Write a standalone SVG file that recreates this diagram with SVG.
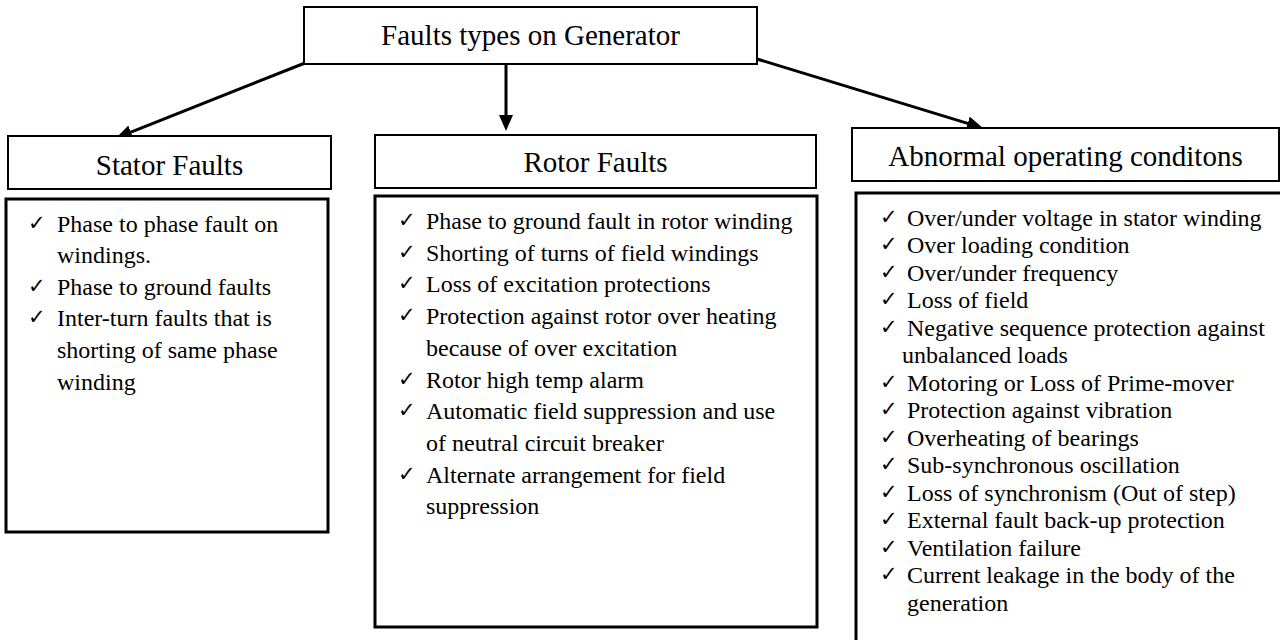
<svg xmlns="http://www.w3.org/2000/svg" width="1280" height="640" viewBox="0 0 1280 640">
<style>
.hdr{fill:#fff;stroke:#000;stroke-width:2}
.lst{fill:#fff;stroke:#000;stroke-width:3}
.t{font-family:"Liberation Serif","Times New Roman",serif;fill:#000}
.h{font-size:29px;text-anchor:middle}
.i{font-size:24px}
.ck{font-family:"DejaVu Sans",sans-serif;font-size:21px;font-weight:bold;fill:#000}
.conn{stroke:#000;stroke-width:3;fill:none}
</style>
<defs>
<marker id="ah" markerUnits="userSpaceOnUse" markerWidth="16" markerHeight="14" viewBox="0 0 16 14" refX="6" refY="7" orient="auto">
<path d="M0,0 L16,7 L0,14 z" fill="#000"/>
</marker>
</defs>
<rect width="1280" height="640" fill="#fff"/>
<g id="connectors">
<line class="conn" x1="305" y1="63" x2="125.3" y2="134.3" marker-end="url(#ah)"/>
<line class="conn" x1="506" y1="64" x2="506" y2="121" marker-end="url(#ah)"/>
<line class="conn" x1="757" y1="59" x2="973.4" y2="125.1" marker-end="url(#ah)"/>
</g>
<g id="root">
<rect class="hdr" x="304" y="7" width="453" height="57"/>
<text class="t h" x="530.5" y="45">Faults types on Generator</text>
</g>
<g id="stator">
<rect class="hdr" x="8" y="136" width="323" height="53"/>
<text class="t h" x="169.5" y="175">Stator Faults</text>
</g>
<g id="stator-list">
<rect class="lst" x="6" y="199" width="322" height="333"/>
<g class="ck"><text x="28" y="230">✓</text><text x="28" y="293">✓</text><text x="28" y="324">✓</text></g>
<text class="t i" x="57" y="232">Phase to phase fault on</text>
<text class="t i" x="57" y="263">windings.</text>
<text class="t i" x="57" y="295">Phase to ground faults</text>
<text class="t i" x="57" y="326">Inter-turn faults that is</text>
<text class="t i" x="57" y="358">shorting of same phase</text>
<text class="t i" x="57" y="390">winding</text>
</g>
<g id="rotor">
<rect class="hdr" x="375" y="135" width="441" height="53"/>
<text class="t h" x="595.5" y="172">Rotor Faults</text>
</g>
<g id="rotor-list">
<rect class="lst" x="375" y="196" width="442" height="431"/>
<g class="ck"><text x="398" y="227">✓</text><text x="398" y="259">✓</text><text x="398" y="290">✓</text><text x="398" y="322">✓</text><text x="398" y="386">✓</text><text x="398" y="417">✓</text><text x="398" y="481">✓</text></g>
<text class="t i" x="426" y="229">Phase to ground fault in rotor winding</text>
<text class="t i" x="426" y="261">Shorting of turns of field windings</text>
<text class="t i" x="426" y="292">Loss of excitation protections</text>
<text class="t i" x="426" y="324">Protection against rotor over heating</text>
<text class="t i" x="426" y="356">because of over excitation</text>
<text class="t i" x="426" y="388">Rotor high temp alarm</text>
<text class="t i" x="426" y="419">Automatic field suppression and use</text>
<text class="t i" x="426" y="451">of neutral circuit breaker</text>
<text class="t i" x="426" y="483">Alternate arrangement for field</text>
<text class="t i" x="426" y="514">suppression</text>
</g>
<g id="abnormal">
<rect class="hdr" x="852" y="128" width="427" height="53"/>
<text class="t h" x="1065.5" y="166">Abnormal operating conditons</text>
</g>
<g id="abnormal-list">
<rect class="lst" x="856" y="193" width="440" height="470"/>
<g class="ck"><text x="880" y="224">✓</text><text x="880" y="251">✓</text><text x="880" y="279">✓</text><text x="880" y="306">✓</text><text x="880" y="334">✓</text><text x="880" y="389">✓</text><text x="880" y="416">✓</text><text x="880" y="444">✓</text><text x="880" y="471">✓</text><text x="880" y="499">✓</text><text x="880" y="526">✓</text><text x="880" y="554">✓</text><text x="880" y="581">✓</text></g>
<text class="t i" x="907" y="226">Over/under voltage in stator winding</text>
<text class="t i" x="907" y="253">Over loading condition</text>
<text class="t i" x="907" y="281">Over/under frequency</text>
<text class="t i" x="907" y="308">Loss of field</text>
<text class="t i" x="907" y="336">Negative sequence protection against</text>
<text class="t i" x="902" y="363">unbalanced loads</text>
<text class="t i" x="907" y="391">Motoring or Loss of Prime-mover</text>
<text class="t i" x="907" y="418">Protection against vibration</text>
<text class="t i" x="907" y="446">Overheating of bearings</text>
<text class="t i" x="907" y="473">Sub-synchronous oscillation</text>
<text class="t i" x="907" y="501">Loss of synchronism (Out of step)</text>
<text class="t i" x="907" y="528">External fault back-up protection</text>
<text class="t i" x="907" y="556">Ventilation failure</text>
<text class="t i" x="907" y="583">Current leakage in the body of the</text>
<text class="t i" x="907" y="611">generation</text>
</g>
</svg>
